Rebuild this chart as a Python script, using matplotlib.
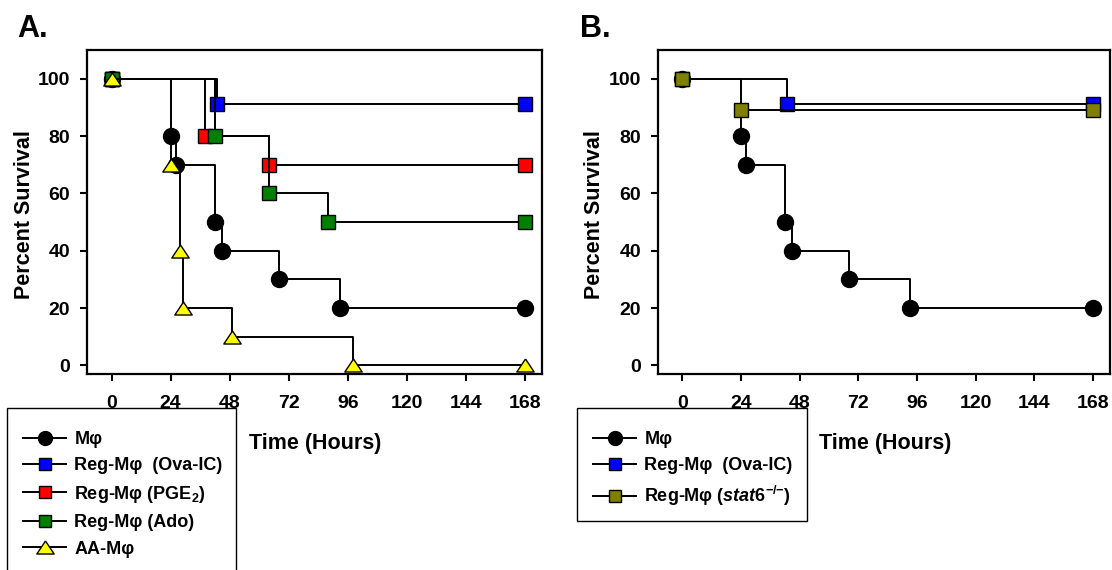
import numpy as np
import matplotlib
matplotlib.use("Agg")
import matplotlib.pyplot as plt
from matplotlib.lines import Line2D
from matplotlib.patches import Rectangle

plt.rcParams['font.family'] = ['Liberation Sans', 'DejaVu Sans']
plt.rcParams['font.weight'] = 'bold'
plt.rcParams['mathtext.fontset'] = 'custom'
plt.rcParams['mathtext.rm'] = 'Liberation Sans:bold'
plt.rcParams['mathtext.bf'] = 'Liberation Sans:bold'
plt.rcParams['mathtext.it'] = 'Liberation Sans:italic:bold'

# Panel A data (hours, percent survival)
hours_mphi = [0, 24, 26, 42, 45, 68, 93, 168]
surv_mphi = [100, 80, 70, 50, 40, 30, 20, 20]
hours_ova = [0, 43, 168]
surv_ova = [100, 91, 91]
hours_pge2 = [0, 38, 64, 168]
surv_pge2 = [100, 80, 70, 70]
hours_ado = [0, 42, 64, 88, 168]
surv_ado = [100, 80, 60, 50, 50]
hours_aa = [0, 24, 28, 29, 49, 98, 168]
surv_aa = [100, 70, 40, 20, 10, 0, 0]

# Panel B data
hours_mphi_b = [0, 24, 26, 42, 45, 68, 93, 168]
surv_mphi_b = [100, 80, 70, 50, 40, 30, 20, 20]
hours_ova_b = [0, 43, 168]
surv_ova_b = [100, 91, 91]
hours_stat6 = [0, 24, 168]
surv_stat6 = [100, 89, 89]

x_ticks = [0, 24, 48, 72, 96, 120, 144, 168]
y_ticks = [0, 20, 40, 60, 80, 100]

# wide triangle marker
tri = [(0, 0.75), (-1, -0.75), (1, -0.75), (0, 0.75)]

styles = {
    'mphi': dict(marker='o', mfc='black', ms=11.5, lms=10),
    'ova': dict(marker='s', mfc='#0000FF', ms=9.5, lms=8.5),
    'pge2': dict(marker='s', mfc='#FF0000', ms=9.5, lms=8.5),
    'ado': dict(marker='s', mfc='#007F00', ms=9.5, lms=8.5),
    'aa': dict(marker=tri, mfc='#FFFF00', ms=12.5, lms=12.5),
    'stat6': dict(marker='s', mfc='#808000', ms=9.5, lms=8.5),
}
labels = {
    'mphi': 'Mφ',
    'ova': 'Reg-Mφ  (Ova-IC)',
    'pge2': r'Reg-Mφ (PGE$_{\mathbf{2}}$)',
    'ado': 'Reg-Mφ (Ado)',
    'aa': 'AA-Mφ',
    'stat6': r'Reg-Mφ ($\mathit{stat6}^{{-}/{-}}$)',
}

W, H = 1112, 570
fig = plt.figure(figsize=(W / 100, H / 100), dpi=100)
axA = fig.add_axes([87 / W, 1 - 374 / H, 455 / W, 324 / H])
axB = fig.add_axes([658 / W, 1 - 374 / H, 452 / W, 324 / H])


def step(ax, t, s, key):
    st = styles[key]
    ax.plot(t, s, drawstyle='steps-post', color='black', lw=1.4,
            marker=st['marker'], ms=st['ms'], mfc=st['mfc'], mec='black',
            mew=1.0, clip_on=False)


step(axA, hours_mphi, surv_mphi, 'mphi')
step(axA, hours_ova, surv_ova, 'ova')
step(axA, hours_pge2, surv_pge2, 'pge2')
step(axA, hours_ado, surv_ado, 'ado')
step(axA, hours_aa, surv_aa, 'aa')

step(axB, hours_mphi_b, surv_mphi_b, 'mphi')
step(axB, hours_ova_b, surv_ova_b, 'ova')
step(axB, hours_stat6, surv_stat6, 'stat6')

for ax in (axA, axB):
    ax.set_xlim(-10, 175)
    ax.set_ylim(-3, 110)
    ax.set_xticks(x_ticks)
    ax.set_yticks(y_ticks)
    for sp in ax.spines.values():
        sp.set_linewidth(1.6)
    ax.tick_params(axis='both', direction='out', length=5, width=1.5,
                   labelsize=14)
    ax.tick_params(axis='x', pad=10)
    ax.tick_params(axis='y', pad=7)
    for lab in ax.get_xticklabels() + ax.get_yticklabels():
        lab.set_fontweight('bold')

# axis titles and panel letters
for xc in (25, 594):
    fig.text(xc / W, 1 - 215 / H, 'Percent Survival', rotation=90,
             ha='center', va='center', fontsize=15.5, fontweight='bold')
for xc in (315, 885):
    fig.text(xc / W, 1 - 443 / H, 'Time (Hours)', ha='center', va='center',
             fontsize=15.5, fontweight='bold')
fig.text(17 / W, 1 - 37 / H, 'A.', ha='left', va='baseline',
         fontsize=22, fontweight='bold')
fig.text(580 / W, 1 - 37 / H, 'B.', ha='left', va='baseline',
         fontsize=22, fontweight='bold')


def make_legend(keys, box):
    x0, y0, x1, y1 = box
    fig.patches.append(Rectangle((x0 / W, 1 - y1 / H), (x1 - x0) / W,
                                 (y1 - y0) / H, transform=fig.transFigure,
                                 facecolor='white', edgecolor='black',
                                 lw=1.0, zorder=1))
    handles = []
    for k in keys:
        st = styles[k]
        handles.append(Line2D([], [], color='black', lw=1.4,
                              marker=st['marker'], ms=st['lms'],
                              mfc=st['mfc'], mec='black', mew=1.0))
    leg = fig.legend(handles, [labels[k] for k in keys], loc='upper left',
                     bbox_to_anchor=((x0 + 16) / W, 1 - (y0 + 23) / H),
                     bbox_transform=fig.transFigure, borderaxespad=0,
                     borderpad=0, fontsize=13, handlelength=2.4,
                     handletextpad=0.45, labelspacing=0.52, numpoints=1,
                     frameon=False)
    leg.set_zorder(2)
    for t in leg.get_texts():
        t.set_fontweight('bold')
    return leg


make_legend(['mphi', 'ova', 'pge2', 'ado', 'aa'], (7, 408, 236, 590))
make_legend(['mphi', 'ova', 'stat6'], (577, 408, 807, 521))

fig.savefig('out.png', dpi=100)
